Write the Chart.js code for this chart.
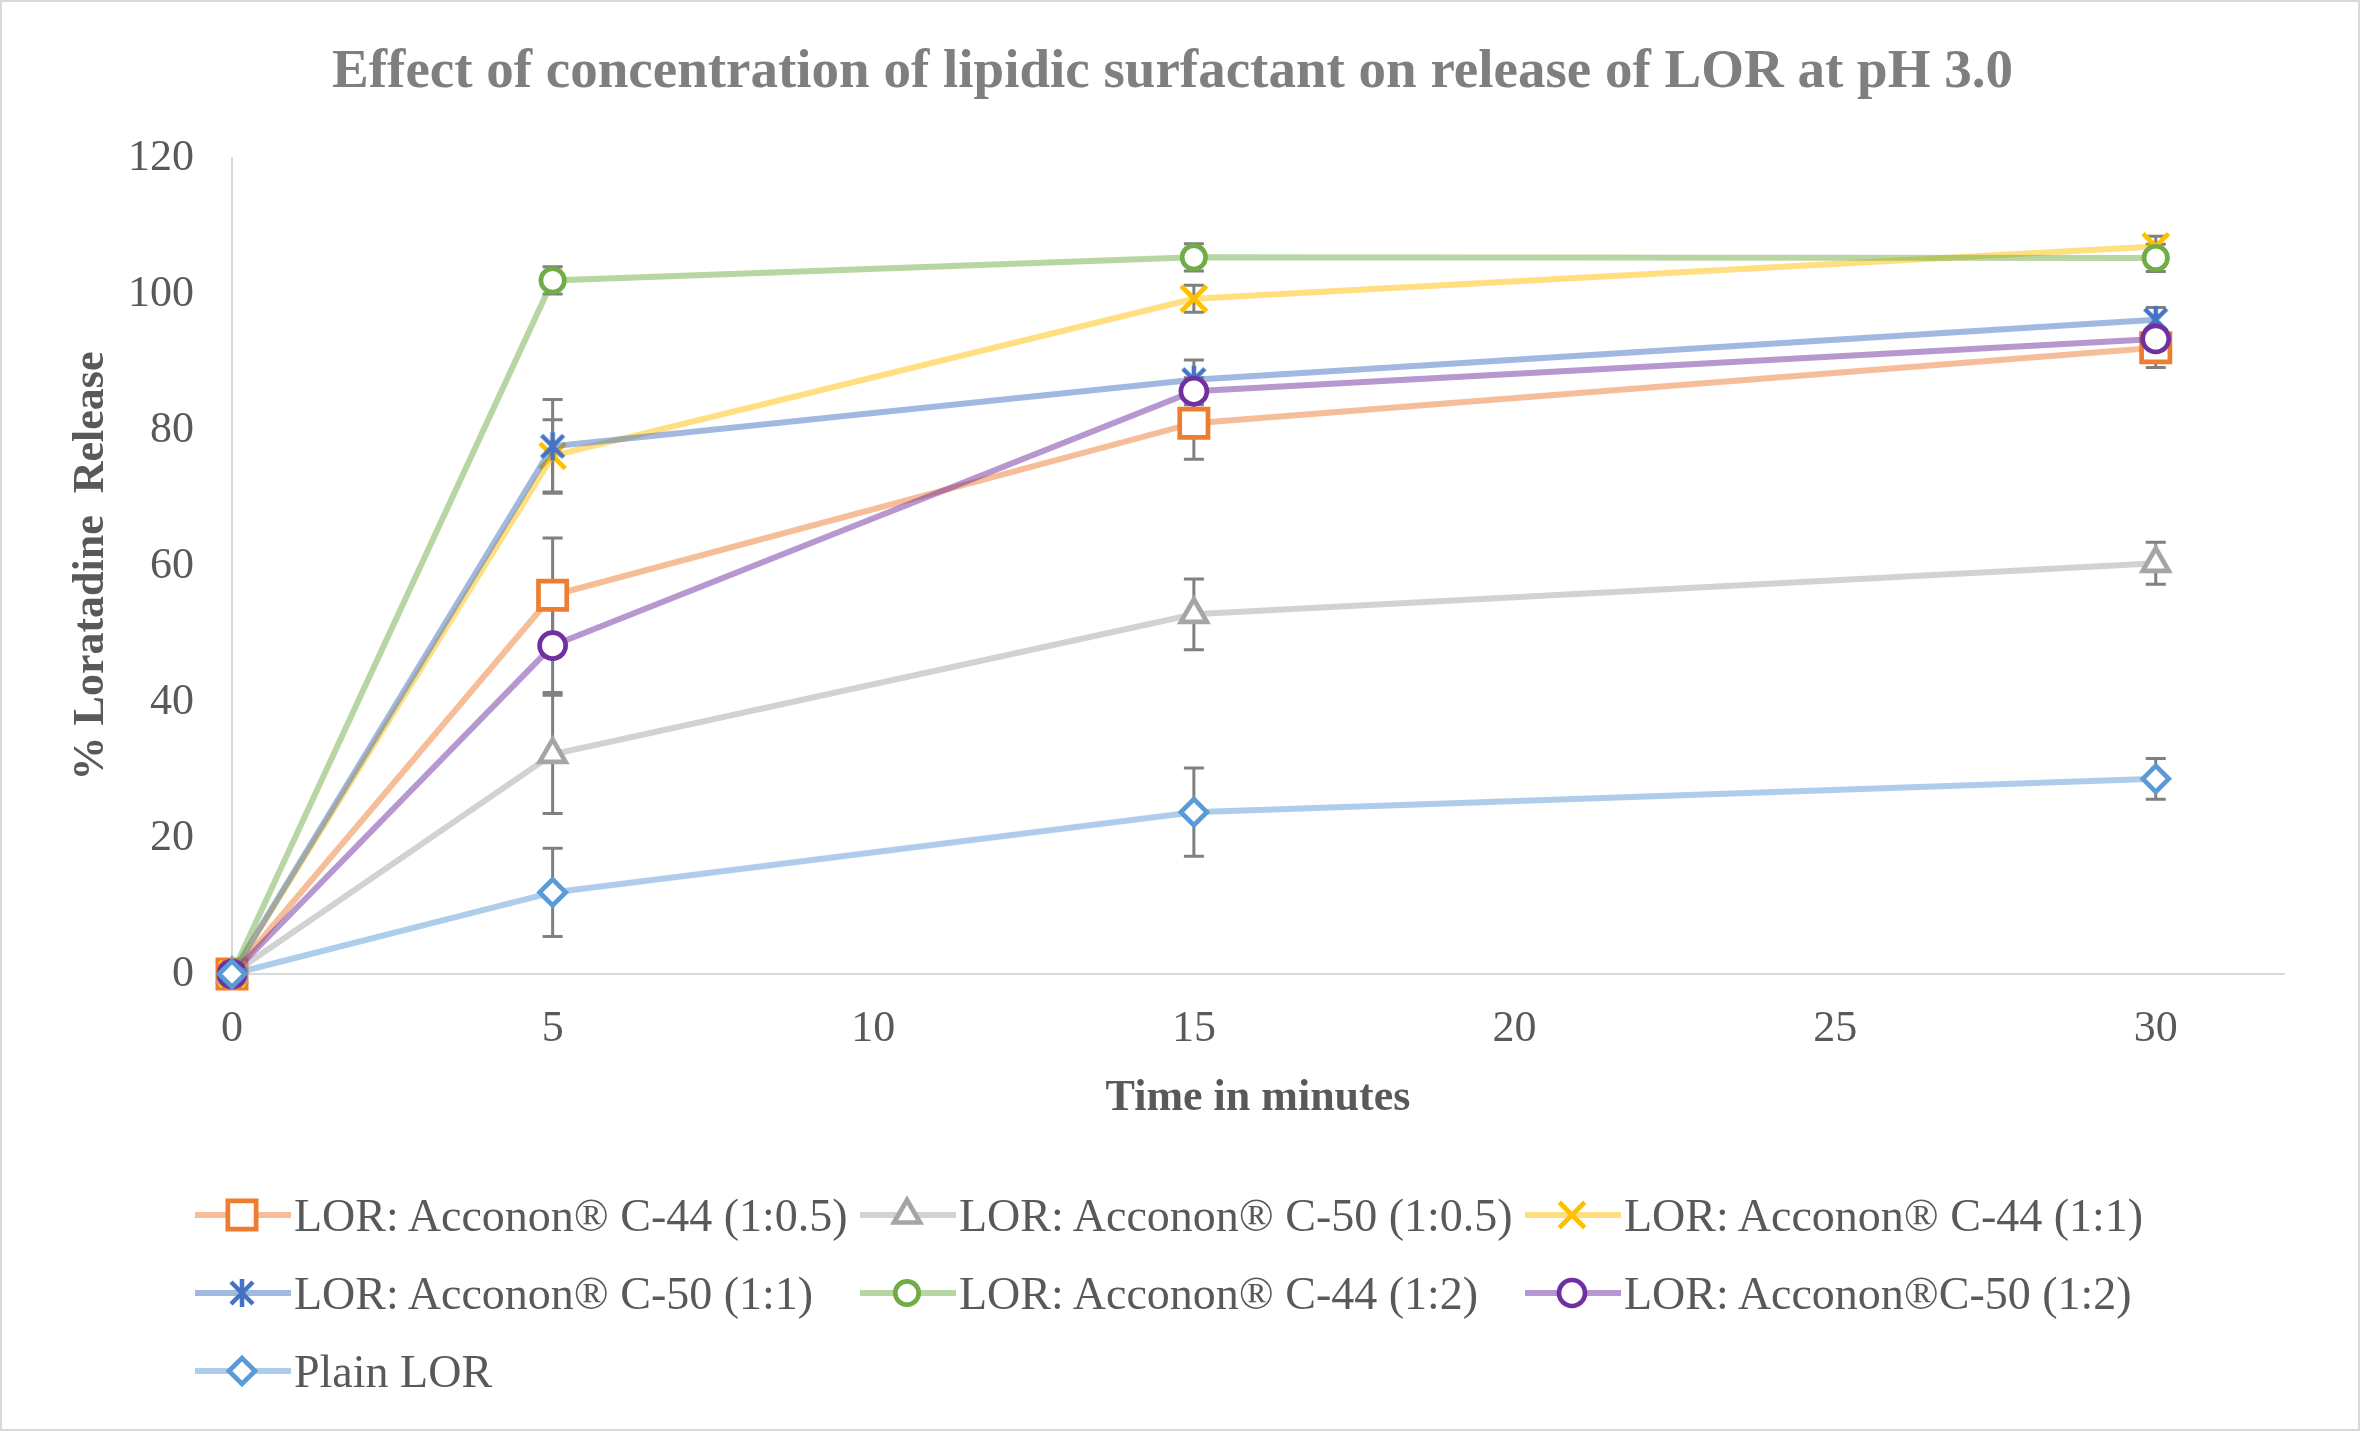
<!DOCTYPE html>
<html>
<head>
<meta charset="utf-8">
<script src="https://cdn.jsdelivr.net/npm/chart.js@4.4.1/dist/chart.umd.min.js"></script>
<style>
    html, body { margin: 0; padding: 0; background: #fff; }
    #wrap { position: relative; width: 2360px; height: 1431px; }
    #frame { position: absolute; left: 0; top: 0; right: 0; bottom: 0; border: 2px solid #d9d9d9; pointer-events: none; }
    #legend {
        position: absolute; left: 195px; top: 1176px;
        display: grid; grid-template-columns: 665px 665px 665px; grid-auto-rows: 78px;
        font-family: 'Liberation Serif', 'Times New Roman', serif; font-size: 46px; color: #595959;
    }
    .item { display: flex; align-items: center; white-space: nowrap; }
    .item canvas { margin-right: 3px; }
</style>
</head>
<body>
<div id="wrap">
    <canvas id="grafica"></canvas>
    <div id="legend"></div>
    <div id="frame"></div>
</div>
<script>
// tiempos de muestreo (min)
const times = [0, 5, 15, 30];

const labels = [
    'LOR: Acconon® C-44 (1:0.5)',
    'LOR: Acconon® C-50 (1:0.5)',
    'LOR: Acconon® C-44 (1:1)',
    'LOR: Acconon® C-50 (1:1)',
    'LOR: Acconon® C-44 (1:2)',
    'LOR: Acconon®C-50 (1:2)',
    'Plain LOR'
];

// % liberado
const c44_05 = [0, 55.7, 81.0, 92.1];
const c50_05 = [0, 32.3, 52.9, 60.4];
const c44_1 = [0, 76.2, 99.3, 107.0];
const c50_1 = [0, 77.6, 87.4, 96.2];
const c44_2 = [0, 102.0, 105.4, 105.3];
const c50_2 = [0, 48.3, 85.7, 93.4];
const plain = [0, 12.0, 23.8, 28.7];

// desviaciones (barras de error)
const sd_c44_05 = [0, 8.4, 5.3, 2.9];
const sd_c50_05 = [0, 8.7, 5.2, 3.1];
const sd_c44_1 = [0, 5.3, 2.0, 1.5];
const sd_c50_1 = [0, 6.9, 2.9, 1.8];
const sd_c44_2 = [0, 2.0, 2.0, 2.0];
const sd_c50_2 = [0, 6.9, 2.0, 1.5];
const sd_plain = [0, 6.5, 6.5, 3.0];

const xTicks = [0, 5, 10, 15, 20, 25, 30];
const yTicks = [0, 20, 40, 60, 80, 100, 120];

const series = [c44_05, c50_05, c44_1, c50_1, c44_2, c50_2, plain];
const errors = [sd_c44_05, sd_c50_05, sd_c44_1, sd_c50_1, sd_c44_2, sd_c50_2, sd_plain];

const markerColors = ['#ED7D31', '#A5A5A5', '#FFC000', '#4472C4', '#70AD47', '#7030A0', '#5B9BD5'];
const lineColors = [
    'rgba(237,125,49,0.5)', 'rgba(165,165,165,0.5)', 'rgba(255,192,0,0.5)', 'rgba(68,114,196,0.5)',
    'rgba(112,173,71,0.5)', 'rgba(112,48,160,0.5)', 'rgba(91,155,213,0.5)'
];

// asterisco estilo Excel (X + línea vertical)
function asterisk(color) {
    const c = document.createElement('canvas');
    c.width = 32; c.height = 32;
    const g = c.getContext('2d');
    g.strokeStyle = color;
    g.lineWidth = 4.5;
    g.beginPath();
    g.moveTo(5, 5); g.lineTo(27, 27);
    g.moveTo(27, 5); g.lineTo(5, 27);
    g.moveTo(16, 2); g.lineTo(16, 30);
    g.stroke();
    return c;
}

const styles = ['rect', 'triangle', 'crossRot', asterisk('#4472C4'), 'circle', 'circle', 'rectRot'];
const radii = [20, 15, 18, 14, 11.7, 13, 13];

const serif = "'Liberation Serif', 'Times New Roman', serif";

const datasets = series.map((vals, i) => ({
    label: labels[i],
    data: vals.map((v, j) => ({ x: times[j], y: v })),
    errors: errors[i],
    borderColor: lineColors[i],
    borderWidth: 6,
    pointStyle: styles[i],
    pointRadius: radii[i],
    pointBorderWidth: 4.7,
    pointBorderColor: markerColors[i],
    pointBackgroundColor: '#ffffff',
    showLine: true,
    clip: false,
    order: series.length - i
}));

// barras de error dibujadas con las escalas del gráfico
const errorBars = {
    id: 'errorBars',
    beforeDatasetsDraw(chart) {
        const ctx = chart.ctx;
        const xs = chart.scales.x, ys = chart.scales.y;
        ctx.save();
        ctx.strokeStyle = '#808080';
        ctx.lineWidth = 3;
        chart.data.datasets.forEach(ds => {
            ds.data.forEach((p, j) => {
                const e = ds.errors[j];
                if (!e) return;
                const x = xs.getPixelForValue(p.x);
                const y1 = ys.getPixelForValue(p.y + e);
                const y2 = ys.getPixelForValue(p.y - e);
                ctx.beginPath();
                ctx.moveTo(x, y1); ctx.lineTo(x, y2);
                ctx.moveTo(x - 10, y1); ctx.lineTo(x + 10, y1);
                ctx.moveTo(x - 10, y2); ctx.lineTo(x + 10, y2);
                ctx.stroke();
            });
        });
        ctx.restore();
    }
};

new Chart(document.getElementById('grafica'), {
    type: 'scatter',
    data: { datasets: datasets },
    options: {
        responsive: true,
        maintainAspectRatio: false,
        animation: false,
        layout: { padding: { left: 61, right: 76, top: 0, bottom: 302 } },
        plugins: {
            legend: { display: false },
            tooltip: { enabled: false },
            title: {
                display: true,
                text: 'Effect of concentration of lipidic surfactant on release of LOR at pH 3.0',
                color: '#7F7F7F',
                font: { family: serif, size: 55, weight: 'bold' },
                padding: { top: 40, bottom: 52 }
            }
        },
        scales: {
            x: {
                type: 'linear',
                min: 0,
                max: 32,
                afterBuildTicks: s => { s.ticks = xTicks.map(v => ({ value: v })); },
                afterFit: s => { s.height = 155; },
                grid: { display: false },
                border: { display: true, color: '#D9D9D9', width: 2 },
                ticks: { color: '#595959', font: { family: serif, size: 44 }, padding: 21, maxRotation: 0 },
                title: {
                    display: true,
                    text: 'Time in minutes',
                    color: '#595959',
                    font: { family: serif, size: 44, weight: 'bold' }
                }
            },
            y: {
                min: 0,
                max: 120,
                afterBuildTicks: s => { s.ticks = yTicks.map(v => ({ value: v })); },
                afterFit: s => { s.width = 171; },
                grid: { display: false },
                border: { display: true, color: '#D9D9D9', width: 2 },
                ticks: { color: '#595959', font: { family: serif, size: 44 }, padding: 30 },
                title: {
                    display: true,
                    text: '% Loratadine  Release',
                    color: '#595959',
                    font: { family: serif, size: 44, weight: 'bold' }
                }
            }
        }
    },
    plugins: [errorBars]
});

// leyenda en cuadrícula de 3 columnas
const legend = document.getElementById('legend');
labels.forEach((txt, i) => {
    const item = document.createElement('div');
    item.className = 'item';
    const c = document.createElement('canvas');
    c.width = 96; c.height = 50;
    const g = c.getContext('2d');
    g.strokeStyle = lineColors[i];
    g.lineWidth = 6;
    g.beginPath(); g.moveTo(0, 25); g.lineTo(96, 25); g.stroke();
    g.fillStyle = '#ffffff';
    g.strokeStyle = markerColors[i];
    g.lineWidth = 4.7;
    Chart.helpers.drawPoint(g, { pointStyle: styles[i], radius: radii[i], borderWidth: 4.7, rotation: 0 }, 47, 25);
    item.appendChild(c);
    const span = document.createElement('span');
    span.textContent = txt;
    item.appendChild(span);
    legend.appendChild(item);
});
</script>
</body>
</html>
